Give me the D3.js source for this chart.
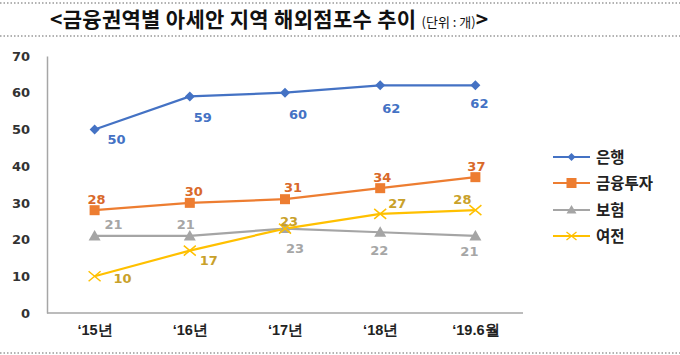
<!DOCTYPE html>
<html><head><meta charset="utf-8">
<script src="https://cdn.jsdelivr.net/npm/d3@7"></script>
<style>body{margin:0;background:#fff;}svg{display:block;font-family:"Noto Sans CJK KR","Noto Sans",sans-serif;}</style>
</head><body>
<svg id="c" width="680" height="355"></svg>
<script>
const categories = ["‘15년", "‘16년", "‘17년", "‘18년", "‘19.6월"];
const seriesNames = ["은행", "금융투자", "보험", "여전"];
const bank = [50, 59, 60, 62, 62];
const invest = [28, 30, 31, 34, 37];
const insurance = [21, 21, 23, 22, 21];
const credit = [10, 17, 23, 27, 28];
const yTicks = [0, 10, 20, 30, 40, 50, 60, 70];

const colors = ["#4472C4", "#ED7D31", "#A5A5A5", "#FFC000"];
const labelColors = ["#4472C4", "#D9692A", "#A6A6A6", "#C9A12A"];
const markers = ["diamond", "square", "triangle", "cross"];
// label offsets [dx, dy] per series per point
const labelOffsets = [
  [[22,10],[13,21],[13,22],[11,23],[4,18]],
  [[2,-11],[4,-11],[8,-12],[2,-11],[1,-11]],
  [[19,-11],[-4,-11],[10,20],[-1,18],[-6,16]],
  [[28,2],[19,10],[4,-7],[17,-10],[-13,-11]]
];
const allSeries = [bank, invest, insurance, credit];

const svg = d3.select("#c");
const x = d3.scalePoint().domain(categories).range([47, 523]).padding(0.5);
const y = d3.scaleLinear().domain([0, 70]).range([313, 56]);

// dotted frame lines
[3, 36, 353].forEach(yy => {
  svg.append("line").attr("x1", 0).attr("x2", 680).attr("y1", yy).attr("y2", yy)
    .attr("stroke", "#666").attr("stroke-width", 1.2).attr("stroke-dasharray", "1.5,2");
});

// title
const title = svg.append("text").attr("x", 269).attr("y", 27).attr("text-anchor", "middle")
  .attr("fill", "#111");
title.append("tspan").attr("font-size", 21).attr("font-weight", "bold").attr("letter-spacing", 0.3).text("<금융권역별 아세안 지역 해외점포수 추이 ");
title.append("tspan").attr("font-size", 13).attr("letter-spacing", 0).text("(단위 : 개)");
title.append("tspan").attr("font-size", 21).attr("font-weight", "bold").text(">");

// axes
const yAxis = d3.axisLeft(y).tickValues(yTicks).tickSize(0).tickPadding(0);
const gy = svg.append("g").attr("transform", "translate(47,0)").call(yAxis);
gy.select(".domain").attr("stroke", "#A6A6A6").attr("stroke-width", 1.5);
gy.selectAll("text").attr("x", -17).attr("font-size", 13).attr("font-weight", "bold")
  .attr("fill", "#333").attr("font-family", "Verdana, 'DejaVu Sans', sans-serif");

const xAxis = d3.axisBottom(x).tickSize(0).tickPadding(0);
const gx = svg.append("g").attr("transform", "translate(0,313)").call(xAxis);
gx.select(".domain").attr("d", "M47,0H523").attr("stroke", "#A6A6A6").attr("stroke-width", 1.5);
gx.selectAll("text").attr("y", 17).attr("dy", "0.32em").attr("font-size", 14.5).attr("font-weight", "bold")
  .attr("fill", "#222");

function marker(g, type, color) {
  if (type === "diamond") {
    g.append("path").attr("d", "M0,-5L5,0L0,5L-5,0Z").attr("fill", color);
  } else if (type === "square") {
    g.append("rect").attr("x", -5).attr("y", -5).attr("width", 10).attr("height", 10).attr("fill", color);
  } else if (type === "triangle") {
    g.append("path").attr("d", "M0,-6L6,4.5L-6,4.5Z").attr("fill", color);
  } else {
    g.append("path").attr("d", "M-6,-5L6,5M-6,5L6,-5").attr("stroke", color).attr("stroke-width", 1.5).attr("fill", "none");
  }
}

const line = d3.line().x((d, i) => x(categories[i])).y(d => y(d));

allSeries.forEach((vals, s) => {
  svg.append("path").datum(vals).attr("d", line).attr("fill", "none")
    .attr("stroke", colors[s]).attr("stroke-width", 2.2);
});
allSeries.forEach((vals, s) => {
  vals.forEach((v, i) => {
    const g = svg.append("g").attr("transform", `translate(${x(categories[i])},${y(v)})`);
    marker(g, markers[s], colors[s]);
  });
});
allSeries.forEach((vals, s) => {
  vals.forEach((v, i) => {
    const o = labelOffsets[s][i];
    svg.append("text").attr("x", x(categories[i]) + o[0]).attr("y", y(v) + o[1])
      .attr("dy", "0.35em").attr("text-anchor", "middle").attr("font-size", 13).attr("font-weight", "bold")
      .attr("font-family", "Verdana, 'DejaVu Sans', sans-serif")
      .attr("fill", labelColors[s]).text(v);
  });
});

// legend
const legendY = [157, 183, 210, 236];
seriesNames.forEach((name, s) => {
  const g = svg.append("g").attr("transform", `translate(553,${legendY[s]})`);
  g.append("line").attr("x1", 0).attr("x2", 37).attr("stroke", colors[s]).attr("stroke-width", 2.2);
  const m = g.append("g").attr("transform", "translate(18.5,0)");
  if (s === 0) m.append("path").attr("d", "M0,-4L4,0L0,4L-4,0Z").attr("fill", colors[s]);
  else if (s === 1) m.append("rect").attr("x", -5).attr("y", -5).attr("width", 10).attr("height", 10).attr("fill", colors[s]);
  else if (s === 2) m.append("path").attr("d", "M0,-5L5,3.5L-5,3.5Z").attr("fill", colors[s]);
  else m.append("path").attr("d", "M-5,-4L5,4M-5,4L5,-4").attr("stroke", colors[s]).attr("stroke-width", 1.3);
  g.append("text").attr("x", 43).attr("dy", "0.36em").attr("font-size", 15.5).attr("font-weight", "bold")
    .attr("fill", "#222").text(name);
});
</script>
</body></html>
